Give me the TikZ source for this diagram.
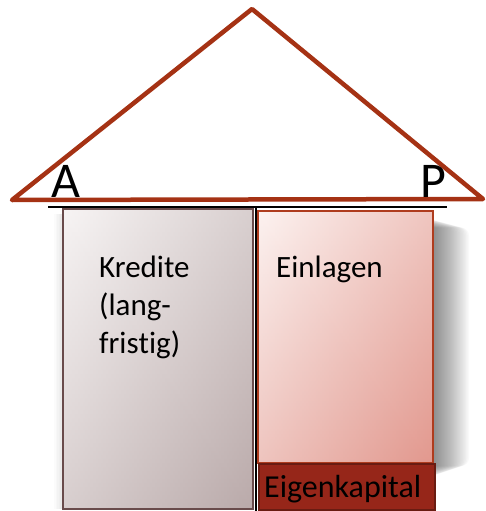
\documentclass[tikz,border=0pt]{standalone}
\usepackage{fontspec}
\setmainfont{Carlito}[Ligatures={NoCommon}]
\definecolor{roof}{RGB}{165,50,20}
\definecolor{lgA}{RGB}{247,244,244}
\definecolor{lgB}{RGB}{186,170,170}
\definecolor{lborder}{RGB}{105,75,75}
\definecolor{rgA}{RGB}{252,242,240}
\definecolor{rgB}{RGB}{226,152,142}
\definecolor{rborder}{RGB}{175,60,30}
\definecolor{ekfill}{RGB}{150,38,25}
\definecolor{ekborder}{RGB}{105,28,18}
\tikzset{
  bigtxt/.style={font=\fontsize{31pt}{38pt}\selectfont, inner sep=0pt, anchor=base west, align=left},
  lettertxt/.style={font=\fontsize{50pt}{60pt}\selectfont, inner sep=0pt, anchor=base west},
}
\begin{document}
\begin{tikzpicture}[x=1pt,y=-1pt]
\useasboundingbox (0,0) rectangle (485,511);
% soft shadow right of the Einlagen box
\foreach \i in {1,...,24} {
  \fill[black, opacity=0.022, rounded corners=8pt] (300+1.5*\i,218+0.4*\i) rectangle (433+1.5*\i,478-0.5*\i);
}
% left box shadow (faint)
\foreach \i in {1,...,6} {
  \fill[black, opacity=0.015] (63-1.5*\i,214) rectangle (253,509);
}
% roof
\draw[roof, line width=4.5pt, line join=round, line cap=round] (12,200) -- (252,9) -- (483,199) -- cycle;
% left box
\shade[left color=lgA, right color=lgB] (63,209) rectangle (253,509);
\shade[top color=lgA, bottom color=lgB, opacity=0.5] (63,209) rectangle (253,509);
\draw[lborder, line width=1.3pt] (63,209) rectangle (253,509);
% right box
\shade[left color=rgA, right color=rgB] (258,211) rectangle (433,463);
\shade[top color=rgA, bottom color=rgB, opacity=0.5] (258,211) rectangle (433,463);
\draw[rborder, line width=1.3pt] (258,211) rectangle (433,463);
% Eigenkapital box
\fill[ekfill] (258,463) rectangle (436,511);
\draw[ekborder, line width=2pt] (259,464) rectangle (435,510);
% T-account lines
\coordinate (tl) at (48,207);
\coordinate (tr) at (447,207);
\coordinate (tm) at (256,207);
\coordinate (tb) at (256,511);
\draw[black, line width=1.6pt] (tl) -- (tr);
\draw[black, line width=1.6pt] (tm) -- (tb);
% texts
\node[lettertxt] (A) at (51,197) {A};
\node[lettertxt] (P) at (420,197) {P};
\node[bigtxt] (kred) at (99,353) {Kredite\\(lang-\\fris\kern0pt tig)};
\node[bigtxt] (einl) at (276,277) {Einlagen};
\node[bigtxt, font=\fontsize{32pt}{38pt}\selectfont] (ek) at (264,497) {Eigenkapital};
\end{tikzpicture}
\end{document}
